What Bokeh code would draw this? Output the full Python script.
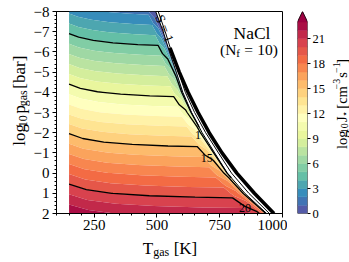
import math
import numpy as np
from bokeh.plotting import figure
from bokeh.models import Range1d, SingleIntervalTicker, FixedTicker, CustomJSTickFormatter, Label
from bokeh.layouts import row, column
from bokeh.embed import file_html
from bokeh.resources import INLINE
from bokeh.core.properties import value

# ---------------- data ----------------
p_rows = [-8, -7, -6, -5, -4, -3, -2, -1, 0, 1, 2]            # log10 p_gas [bar]
J_at_150K = [2.8, 4.8, 6.8, 8.8, 10.8, 12.8, 14.9, 16.9, 18.9, 20.9, 22.9]
T_start = 150                                                  # K, left end of data
T_edge = [495, 525, 550, 577, 603, 638, 680, 730, 780, 850, 937]  # end of nucleating region
T_inner = [505, 533, 558, 586, 613, 650, 694, 745, 797, 866, 948]  # outer thin contour
u_cols = [0, 0.1, 0.25, 0.45, 0.7, 0.905, 0.925, 0.96, 0.985, 1.0]  # fraction T_start -> T_edge
drop_top = [0, 0.31, 0.61, 0.85, 1.03, 1.12, 1.12, 1.14, 1.15, 1.16]
drop_bottom = [0, 0.57, 0.95, 1.17, 1.31, 1.37, 1.38, 1.39, 1.40, 1.40]
drop_edge = [0, 0, 0, 0, 0, 0, 0.8, 1.3, 3.0, 8.0]
J_floor = 0.3

T_S1 = [552, 589, 624, 664, 708, 759, 818, 888, 966]          # S = 1 curve
p_S1 = [-6.2, -5, -4, -3, -2, -1, 0, 1, 2]

fill_levels = list(range(0, 24))         # 0..23, extend max
extend_top = 40
line_levels = [5, 10, 15, 20]
cbar_ticks = [0, 3, 6, 9, 12, 15, 18, 21]

clabel_text = ["1", "15", "20"]
clabel_T = [663, 698, 851]
clabel_p = [-1.91, -0.75, 1.73]

# ---------------- colours (Spectral_r) ----------------
spectral = ["#9e0142", "#d53e4f", "#f46d43", "#fdae61", "#fee08b", "#ffffbf",
            "#e6f598", "#abdda4", "#66c2a5", "#3288bd", "#5e4fa2"]
anchors = spectral[::-1]


def _rgb(h):
    return [int(h[i:i + 2], 16) for i in (1, 3, 5)]


def cmap(t):
    pos = min(max(t, 0.0), 1.0) * 10
    i = min(int(pos), 9)
    f = pos - i
    a, b = _rgb(anchors[i]), _rgb(anchors[i + 1])
    c = [round(a[k] + (b[k] - a[k]) * f) for k in range(3)]
    return "#%02x%02x%02x" % tuple(c)


nb = len(fill_levels) - 1
band_colors = [cmap((k + 0.5) / nb) for k in range(nb)]
over_color = anchors[-1]

# ---------------- field on a curvilinear grid ----------------
P = np.array(p_rows, float)[:, None] * np.ones(len(u_cols))
Te = np.array(T_edge, float)[:, None]
U = np.array(u_cols, float)[None, :]
T = T_start + U * (Te - T_start)
frac = (P - p_rows[0]) / (p_rows[-1] - p_rows[0])
dt, db = np.array(drop_top)[None, :], np.array(drop_bottom)[None, :]
J = np.array(J_at_150K, float)[:, None] - (dt + (db - dt) * frac) - np.array(drop_edge)[None, :]
J = np.maximum(J, J_floor)

# ---------------- layout constants (page pixels) ----------------
FONT = "Liberation Serif"
X0, X1 = 100, 1000
Y_TOP, Y_BOT = -8, 2
YL_W = 30
FL, FT, FW, FH = 55, 11, 226, 202
MAIN_BB = 23
MAIN_H = FT + FH + MAIN_BB
MAIN_W = (FL - YL_W) + FW + 5
CB_L, CB_FW, CB_R = 10, 10, 21
CB_TOP = 24.25
CBL_X = YL_W + MAIN_W + CB_L + CB_FW + CB_R
CBL_W = 349 - CBL_X
XL_H = 24


def mx(px):
    return X0 + (px - FL) * (X1 - X0) / FW


def my(py):
    return Y_TOP + (py - FT) * (Y_BOT - Y_TOP) / FH


TW = {' ': 250, '[': 333, ']': 333, '(': 333, ')': 333, '=': 564, '\u2212': 564,
      'a': 444, 'b': 500, 'c': 444, 'g': 500, 'l': 278, 'm': 778, 'o': 500, 'p': 500,
      'r': 333, 's': 389, 'f': 333, 'J': 389, 'K': 722, 'N': 722, 'T': 611, 'C': 667,
      'S': 556, '\u22c6': 600}
for d in "0123456789":
    TW[d] = 500


def tw(s, size):
    return sum(TW.get(c, 500) for c in s) * size / 1000.0


def compose(pieces, center, base, vertical):
    """Return (x_px, y_px, text, size) for each piece, page pixels."""
    out = []
    total = sum(tw(pc[0], pc[1]) if pc[0] is not None else pc[1] for pc in pieces)
    pos = center + total / 2 if vertical else center - total / 2
    for pc in pieces:
        if pc[0] is None:
            pos += -pc[1] if vertical else pc[1]
            continue
        txt, size, dy = pc
        w = tw(txt, size)
        if vertical:
            out.append((base - dy, pos, txt, size))
            pos -= w
        else:
            out.append((pos, base - dy, txt, size))
            pos += w
    return out


def text_fig(w, h):
    f = figure(width=w, height=h, x_range=Range1d(0, w), y_range=Range1d(h, 0),
               min_border=0, toolbar_location=None, output_backend="svg",
               x_axis_location=None, y_axis_location=None)
    f.outline_line_color = None
    f.background_fill_color = "white"
    f.border_fill_color = "white"
    f.grid.visible = False
    return f


def put_pieces(f, pieces, ox, oy, angle):
    for (x, y, txt, size) in pieces:
        f.text(x=[x - ox], y=[y - oy], text=[txt], angle=angle, text_font=value(FONT),
               text_font_size=value("%.1fpx" % size), text_color="black",
               text_align="left", text_baseline="alphabetic")


# ---------------- main figure ----------------
p = figure(frame_width=FW, frame_height=FH, min_border_left=FL - YL_W, min_border_right=5,
           min_border_top=FT, min_border_bottom=MAIN_BB,
           x_range=Range1d(X0, X1), y_range=Range1d(Y_BOT, Y_TOP),
           toolbar_location=None, output_backend="svg")
p.background_fill_color = "white"
p.border_fill_color = "white"
p.outline_line_color = "black"
p.outline_line_width = 1
p.grid.visible = False

p.contour(x=T, y=P, z=J, levels=fill_levels + [extend_top],
          fill_color=band_colors + [over_color], line_color=None)
p.contour(x=T, y=P, z=J, levels=line_levels, line_color="black", line_width=1.3)

p.line(T_edge, p_rows, line_color="black", line_width=1.0)
p.line(T_inner, p_rows, line_color="black", line_width=1.0)
p.line(T_S1, p_S1, line_color="black", line_width=3.6)

p.text(x=clabel_T, y=clabel_p, text=clabel_text, text_font=value(FONT),
       text_font_size=value("12px"), text_color="black", text_align="center",
       text_baseline="middle")

p.add_layout(Label(x=mx(163), y=my(28), text="S = 1", angle=-68 * math.pi / 180,
                   text_font=FONT, text_font_size="13.5px", text_color="black",
                   text_align="center", text_baseline="middle"))

p.add_layout(Label(x=mx(250.5), y=my(32), text="NaCl", text_font=FONT,
                   text_font_size="17.5px", text_color="black", text_align="center",
                   text_baseline="alphabetic"))
for (x, y, txt, size) in compose([("(N", 15.5, 0), ("f", 11, -3), (None, 4.3), ("=", 15.5, 0),
                                  (None, 4.3), ("10)", 15.5, 0)], 247.5, 49, False):
    p.add_layout(Label(x=mx(x), y=my(y), text=txt, text_font=FONT,
                       text_font_size="%.1fpx" % size, text_color="black",
                       text_align="left", text_baseline="alphabetic"))

p.xaxis.ticker = SingleIntervalTicker(interval=250, num_minor_ticks=5)
p.yaxis.ticker = SingleIntervalTicker(interval=1, num_minor_ticks=5)
p.yaxis.formatter = CustomJSTickFormatter(
    code="return (tick < 0 ? '\u2212' : '') + Math.abs(tick).toFixed(0);")
for ax in (p.xaxis[0], p.yaxis[0]):
    ax.axis_line_color = "black"
    ax.major_tick_line_color = "black"
    ax.minor_tick_line_color = "black"
    ax.major_tick_in = 0
    ax.major_tick_out = 4
    ax.minor_tick_in = 0
    ax.minor_tick_out = 2
    ax.major_label_text_font = FONT
    ax.major_label_text_font_size = "15px"
    ax.major_label_text_color = "black"
p.xaxis.major_label_standoff = 2
p.yaxis.major_label_standoff = 3

# ---------------- colorbar figure ----------------
cb = figure(frame_width=CB_FW, frame_height=FH, min_border_left=CB_L, min_border_right=CB_R,
            min_border_top=FT, min_border_bottom=MAIN_BB,
            x_range=Range1d(0, 1), y_range=Range1d(0, CB_TOP), y_axis_location="right",
            x_axis_location=None, toolbar_location=None, output_backend="svg")
cb.background_fill_color = "white"
cb.border_fill_color = "white"
cb.outline_line_color = None
cb.grid.visible = False
cb.quad(left=0, right=1, bottom=fill_levels[:-1], top=fill_levels[1:],
        fill_color=band_colors, line_color=band_colors, line_width=0.5)
top_lvl = fill_levels[-1]
cb.patch([0, 1, 0.5], [top_lvl, top_lvl, CB_TOP], fill_color=over_color,
         line_color=over_color, line_width=0.5)
cb.line([0, 1, 1, 0.5, 0, 0], [0, 0, top_lvl, CB_TOP, top_lvl, 0],
        line_color="black", line_width=0.8)
cya = cb.yaxis[0]
cya.ticker = FixedTicker(ticks=cbar_ticks, minor_ticks=[])
cya.axis_line_color = None
cya.major_tick_line_color = "black"
cya.major_tick_in = 0
cya.major_tick_out = 3
cya.minor_tick_line_color = None
cya.major_label_text_font = FONT
cya.major_label_text_font_size = "12.5px"
cya.major_label_text_color = "black"
cya.major_label_standoff = 2

# ---------------- axis-label strips ----------------
yl = text_fig(YL_W, MAIN_H)
put_pieces(yl, compose([("log", 17, 0), ("10", 12, -3.5), (None, 4), ("p", 17, 0),
                        ("gas", 12, -3.5), (None, 4.5), ("[bar]", 17, 0)], 107, 19, True),
           0, 0, math.pi / 2)

cbl = text_fig(CBL_W, MAIN_H)
put_pieces(cbl, compose([("log", 14.5, 0), ("10", 10, -3), (None, 3), ("J", 14.5, 0),
                         ("\u22c6", 10, -3), (None, 4), ("[cm", 14.5, 0), ("\u22123", 10, 5.5),
                         (None, 3), ("s", 14.5, 0), ("\u22121", 10, 5.5), ("]", 14.5, 0)],
                        108.5, 340, True),
           CBL_X, 0, math.pi / 2)

xl = text_fig(349, XL_H)
put_pieces(xl, compose([("T", 17, 0), ("gas", 12, -3.5), (None, 4.5), ("[K]", 17, 0)],
                       169.5, 248, False), 0, MAIN_H, 0)

layout = column(row(yl, p, cb, cbl), xl)
open("out.html", "w").write(file_html(layout, INLINE, title="NaCl nucleation"))
